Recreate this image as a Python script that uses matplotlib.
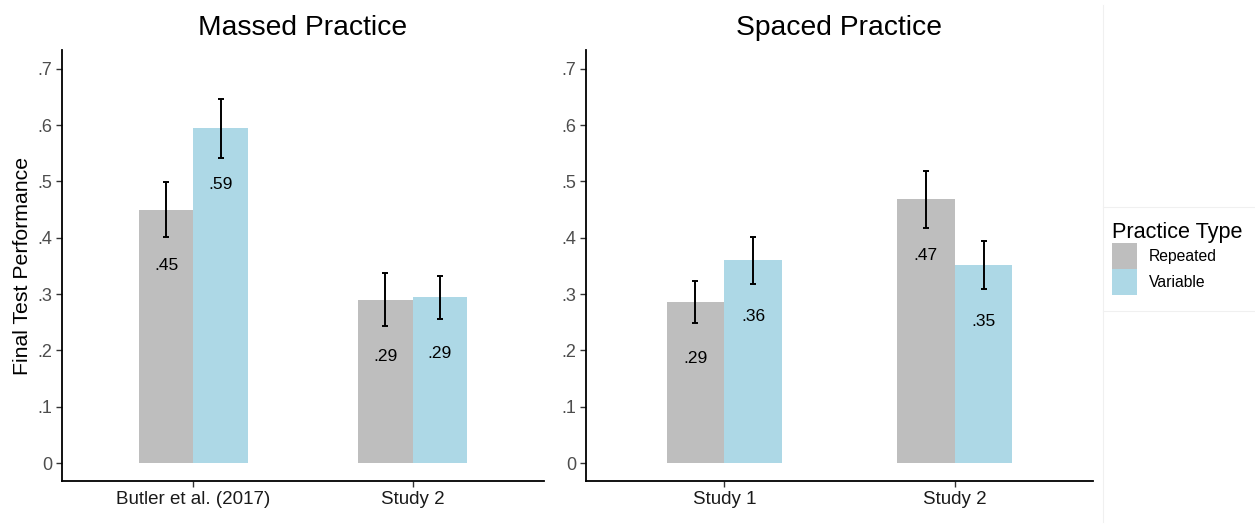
import matplotlib.pyplot as plt
import numpy as np
from matplotlib.lines import Line2D
from matplotlib.patches import Patch

plt.rcParams['font.family'] = ['Liberation Sans', 'DejaVu Sans']

# data
panels = ['Massed Practice', 'Spaced Practice']
groups = [['Butler et al. (2017)', 'Study 2'], ['Study 1', 'Study 2']]
repeated = [[0.450, 0.290], [0.286, 0.468]]
variable = [[0.594, 0.294], [0.360, 0.352]]
repeated_err = [[0.048, 0.047], [0.037, 0.050]]
variable_err = [[0.053, 0.038], [0.042, 0.043]]
yticks = [0, 0.1, 0.2, 0.3, 0.4, 0.5, 0.6, 0.7]
ytick_labels = ['0', '.1', '.2', '.3', '.4', '.5', '.6', '.7']
legend_labels = ['Repeated', 'Variable']

GREY = '#bebebe'
BLUE = '#add8e6'


def fmt(v):
    return f'{v:.2f}'.lstrip('0')


fig = plt.figure(figsize=(12.55, 5.27), dpi=100)
axes_rects = [[62 / 1255, 0.087, 482 / 1255, 0.818],
              [586 / 1255, 0.087, 507 / 1255, 0.818]]

w = 0.25
for p in range(2):
    ax = fig.add_axes(axes_rects[p])
    x = np.arange(1, len(groups[p]) + 1)
    ax.bar(x - w / 2, repeated[p], w, color=GREY, zorder=1)
    ax.bar(x + w / 2, variable[p], w, color=BLUE, zorder=1)
    ax.errorbar(x - w / 2, repeated[p], yerr=repeated_err[p], fmt='none',
                ecolor='black', elinewidth=1.4, capsize=2.5, capthick=1.4, zorder=3)
    ax.errorbar(x + w / 2, variable[p], yerr=variable_err[p], fmt='none',
                ecolor='black', elinewidth=1.4, capsize=2.5, capthick=1.4, zorder=3)
    for xi, v in zip(x - w / 2, repeated[p]):
        ax.text(xi, v - 0.1, fmt(v), ha='center', va='center', fontsize=12.5, color='black')
    for xi, v in zip(x + w / 2, variable[p]):
        ax.text(xi, v - 0.1, fmt(v), ha='center', va='center', fontsize=12.5, color='black')

    ax.set_xlim(0.4, 2.6)
    ax.set_ylim(-0.032, 0.733)
    ax.set_xticks(x)
    ax.set_xticklabels(groups[p], fontsize=13.5, color='#1a1a1a')
    ax.set_yticks(yticks)
    ax.set_yticklabels(ytick_labels, fontsize=13, color='#4d4d4d')
    ax.tick_params(axis='both', length=4, width=1, color='#333333', pad=3)
    for s in ['top', 'right']:
        ax.spines[s].set_visible(False)
    for s in ['left', 'bottom']:
        ax.spines[s].set_linewidth(1.3)
    ax.set_title(panels[p], fontsize=20.3, pad=11)
    if p == 0:
        ax.set_ylabel('Final Test Performance', fontsize=15.3, labelpad=4)

# legend
handles = [Patch(facecolor=GREY, edgecolor='none'), Patch(facecolor=BLUE, edgecolor='none')]
leg = fig.legend(handles, legend_labels, title='Practice Type', loc='upper left',
                 bbox_to_anchor=(1099 / 1255, 1 - 209 / 527), frameon=False,
                 fontsize=11.3, title_fontsize=15.6, handlelength=1.6, handleheight=2.1,
                 handletextpad=0.8, labelspacing=0.05, borderpad=0.3)
leg._legend_box.align = 'left'

# faint separators around the legend
fig.add_artist(Line2D([1103 / 1255, 1103 / 1255], [0.01, 0.99], color='#f0f0f0', lw=0.8))
fig.add_artist(Line2D([1103 / 1255, 1.0], [1 - 207 / 527, 1 - 207 / 527], color='#f0f0f0', lw=0.8))
fig.add_artist(Line2D([1103 / 1255, 1.0], [1 - 311 / 527, 1 - 311 / 527], color='#f0f0f0', lw=0.8))

fig.savefig('out.png', dpi=100)
